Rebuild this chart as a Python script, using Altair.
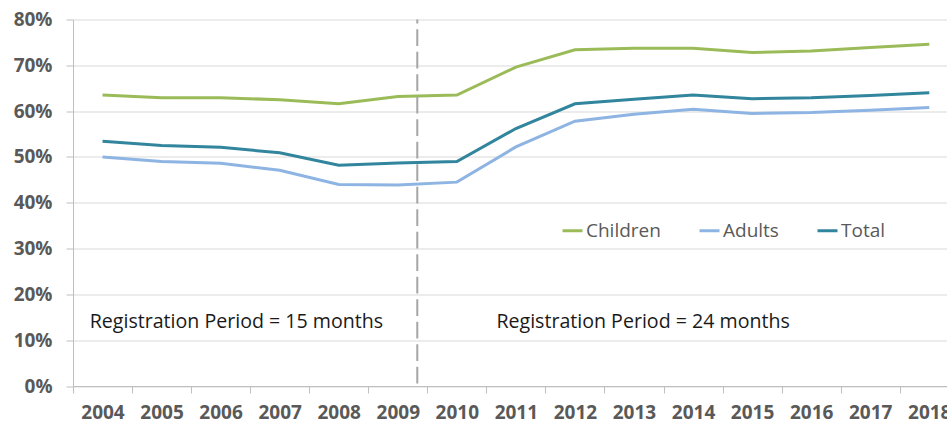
import altair as alt
import pandas as pd

# Share of registrations by year
years = list(range(2004, 2019))
children = [63.5, 62.9, 62.9, 62.5, 61.6, 63.2, 63.5, 69.6, 73.4, 73.7, 73.7, 72.8, 73.1, 73.9, 74.6]
adults = [50.0, 49.0, 48.6, 47.1, 44.0, 43.9, 44.5, 52.2, 57.8, 59.3, 60.4, 59.5, 59.7, 60.2, 60.8]
total = [53.4, 52.5, 52.1, 50.9, 48.2, 48.7, 49.0, 56.2, 61.6, 62.6, 63.5, 62.7, 62.9, 63.4, 64.0]

series_names = ["Children", "Adults", "Total"]
series_colors = ["#9BBB59", "#8DB4E2", "#31859C"]

# Change of registration period (late 2009)
break_year = 2009.33
y_ticks = [0, 10, 20, 30, 40, 50, 60, 70, 80]
x_tick_bounds = [y - 0.5 for y in years]

rows = []
for name, vals in zip(series_names, [children, adults, total]):
    for yr, v in zip(years, vals):
        rows.append({"year": yr, "series": name, "value": v})
df = pd.DataFrame(rows)

FONT = "Open Sans"
AXIS_GRAY = "#595959"
LINE_GRAY = "#BFBFBF"

x_scale = alt.Scale(domain=[2003.5, 2018.3], nice=False, zero=False)
y_scale = alt.Scale(domain=[0, 80], nice=False)

x_axis = alt.Axis(
    values=x_tick_bounds,
    labelExpr="format(datum.value + 0.5, 'd')",
    labelOffset=29.5,
    labelFlush=False,
    labelOverlap=False,
    labelFont=FONT,
    labelFontSize=19,
    labelFontWeight="bold",
    labelColor=AXIS_GRAY,
    labelPadding=10,
    tickSize=7,
    tickColor=LINE_GRAY,
    domainColor=LINE_GRAY,
    grid=False,
    title=None,
)

y_axis = alt.Axis(
    values=y_ticks,
    labelExpr="datum.value + '%'",
    labelFont=FONT,
    labelFontSize=19,
    labelFontWeight="bold",
    labelColor=AXIS_GRAY,
    labelPadding=14,
    tickSize=7,
    tickColor=LINE_GRAY,
    domainColor=LINE_GRAY,
    gridColor="#D9D9D9",
    title=None,
)

lines = alt.Chart(df).mark_line(strokeWidth=3, clip=True).encode(
    x=alt.X("year:Q", scale=x_scale, axis=x_axis),
    y=alt.Y("value:Q", scale=y_scale, axis=y_axis),
    color=alt.Color(
        "series:N",
        scale=alt.Scale(domain=series_names, range=series_colors),
        sort=series_names,
        legend=alt.Legend(
            title=None,
            orient="none",
            legendX=488,
            legendY=199.5,
            direction="horizontal",
            symbolType="stroke",
            symbolSize=400,
            symbolStrokeWidth=3,
            labelFont=FONT,
            labelFontSize=19,
            labelColor=AXIS_GRAY,
            labelOffset=2,
            columnPadding=32,
            padding=0,
        ),
    ),
)

divider = alt.Chart(pd.DataFrame({"x": [break_year]})).mark_rule(
    color="#A6A6A6", strokeWidth=2, strokeDash=[16.7, 5.8], strokeDashOffset=12.8
).encode(x=alt.X("x:Q", scale=x_scale))

notes = pd.DataFrame({
    "label": ["Registration Period = 15 months", "Registration Period = 24 months"],
    "px": [16.7, 423.4],
})
note_text = alt.Chart(notes).mark_text(
    align="left", baseline="alphabetic", font=FONT, fontSize=19.6, color="#1A1A1A"
).encode(
    x=alt.X("px:Q", scale=None),
    y=alt.value(308.5),
    text="label:N",
)

chart = alt.layer(lines, divider, note_text).properties(
    width=874,
    height=366.5,
    padding={"left": 73, "top": 19.5, "right": 0, "bottom": 37},
    autosize=alt.AutoSizeParams(type="none"),
    background="white",
).configure_view(stroke=None)

chart.save("out.html", embed_options={"renderer": "svg", "actions": False})
